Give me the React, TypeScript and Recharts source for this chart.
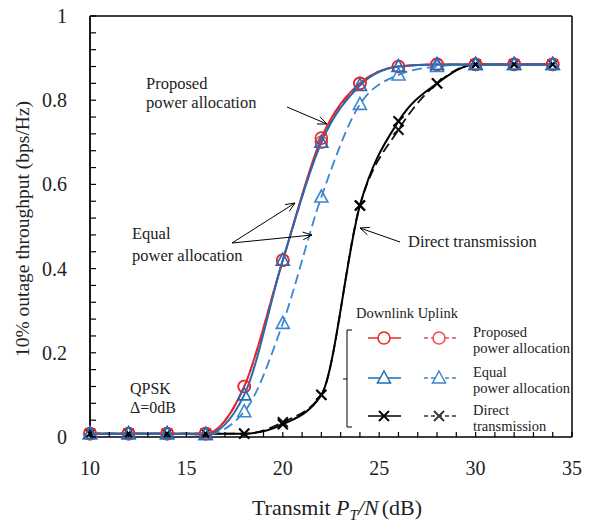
import { LineChart, Line, XAxis, YAxis, ReferenceLine } from 'recharts'

// transmit PT/N (dB) where the markers sit
const snr = [10, 12, 14, 16, 18, 20, 22, 24, 26, 28, 30, 32, 34]

// 10% outage throughput (bps/Hz)
const proposedDown = [0.008, 0.008, 0.008, 0.008, 0.12, 0.42, 0.71, 0.84, 0.88, 0.885, 0.885, 0.885, 0.885]
const proposedUp = [0.008, 0.008, 0.008, 0.008, 0.12, 0.42, 0.70, 0.84, 0.88, 0.885, 0.885, 0.885, 0.885]
const equalDown = [0.008, 0.008, 0.008, 0.006, 0.1, 0.42, 0.70, 0.835, 0.88, 0.885, 0.885, 0.885, 0.885]
const equalUp = [0.008, 0.008, 0.008, 0.006, 0.06, 0.27, 0.57, 0.79, 0.86, 0.88, 0.885, 0.885, 0.885]
const directDown = [0.008, 0.008, 0.008, 0.008, 0.008, 0.03, 0.1, 0.55, 0.75, 0.84, 0.885, 0.885, 0.885]
const directUp = [0.008, 0.008, 0.008, 0.008, 0.008, 0.035, 0.1, 0.55, 0.73, 0.84, 0.885, 0.885, 0.885]

const xLabels = [10, 15, 20, 25, 30, 35]
const yLabels = [0, 0.2, 0.4, 0.6, 0.8, 1]

const xTicks = Array.from({ length: 26 }, (_, i) => 10 + i)
const yTicks = Array.from({ length: 26 }, (_, i) => Math.round(i * 4) / 100)

const data = snr.map((x, i) => ({
  x,
  pd: proposedDown[i],
  pu: proposedUp[i],
  ed: equalDown[i],
  eu: equalUp[i],
  dd: directDown[i],
  du: directUp[i],
}))

const RED = '#e8262a'
const RED2 = '#ef4a4d'
const BLUE = '#1f6db5'
const BLUE2 = '#3a87cf'
const serif = { fontFamily: "'Liberation Serif', 'Times New Roman', Times, serif" }

function circleDot(color: string) {
  return (p: any) => (
    <circle key={'c' + p.index} cx={p.cx} cy={p.cy} r={6} fill="none" stroke={color} strokeWidth={1.6} />
  )
}

function triDot(color: string) {
  return (p: any) => (
    <path
      key={'t' + p.index}
      d={`M${p.cx},${p.cy - 7} L${p.cx + 6.5},${p.cy + 5} L${p.cx - 6.5},${p.cy + 5} Z`}
      fill="none"
      stroke={color}
      strokeWidth={1.6}
    />
  )
}

function crossDot(color: string) {
  return (p: any) => (
    <path
      key={'x' + p.index}
      d={`M${p.cx - 5},${p.cy - 5} L${p.cx + 5},${p.cy + 5} M${p.cx - 5},${p.cy + 5} L${p.cx + 5},${p.cy - 5}`}
      stroke={color}
      strokeWidth={2}
    />
  )
}

function XTick(p: any) {
  const v = p.payload.value
  const major = xLabels.includes(v)
  return (
    <g>
      <line x1={p.x} y1={p.y} x2={p.x} y2={p.y - 5} stroke="#000" strokeWidth={1.2} />
      {major && (
        <text x={p.x} y={p.y + 38} textAnchor="middle" style={serif} fontSize={20} fill="#222">
          {v}
        </text>
      )}
    </g>
  )
}

function YTick(p: any) {
  const v = p.payload.value
  const major = yLabels.some((l) => Math.abs(l - v) < 1e-6)
  return (
    <g>
      <line x1={p.x} y1={p.y} x2={p.x + 6} y2={p.y} stroke="#000" strokeWidth={1.2} />
      {major && (
        <text x={p.x - 23} y={p.y + 7} textAnchor="end" style={serif} fontSize={20} fill="#222">
          {v === 0 ? '0' : v === 1 ? '1' : v.toFixed(1)}
        </text>
      )}
    </g>
  )
}

function Arrow({ x1, y1, x2, y2 }: { x1: number; y1: number; x2: number; y2: number }) {
  const a = Math.atan2(y2 - y1, x2 - x1)
  const h = 10
  const s = 0.4
  const ax = x2 - h * Math.cos(a - s)
  const ay = y2 - h * Math.sin(a - s)
  const bx = x2 - h * Math.cos(a + s)
  const by = y2 - h * Math.sin(a + s)
  return (
    <g stroke="#000" strokeWidth={1} fill="none">
      <line x1={x1} y1={y1} x2={x2} y2={y2} />
      <path d={`M${ax},${ay} L${x2},${y2} L${bx},${by}`} />
    </g>
  )
}

function LegendRow({ y, color, color2, kind, l1, l2 }: any) {
  const mark = (cx: number, c: string) =>
    kind === 'c' ? (
      <circle cx={cx} cy={y} r={6} fill="white" stroke={c} strokeWidth={1.5} />
    ) : kind === 't' ? (
      <path d={`M${cx},${y - 7} L${cx + 6.5},${y + 5} L${cx - 6.5},${y + 5} Z`} fill="white" stroke={c} strokeWidth={1.5} />
    ) : (
      <path d={`M${cx - 5},${y - 5} L${cx + 5},${y + 5} M${cx - 5},${y + 5} L${cx + 5},${y - 5}`} stroke={c} strokeWidth={1.8} />
    )
  return (
    <g>
      <line x1={368} y1={y} x2={401} y2={y} stroke={color} strokeWidth={1.5} />
      {mark(384, color)}
      <line x1={424} y1={y} x2={456} y2={y} stroke={color2} strokeWidth={1.5} strokeDasharray="4 3" />
      {mark(439, color2)}
      <text x={473} y={y - 1} style={serif} fontSize={14.5} fill="#222">
        {l1}
      </text>
      <text x={473} y={y + 15} style={serif} fontSize={14.5} fill="#222">
        {l2}
      </text>
    </g>
  )
}

export default function App() {
  return (
    <div style={{ position: 'absolute', left: 0, top: 0, width: 594, height: 523, background: '#fff', ...serif }}>
      <LineChart width={594} height={523} data={data} margin={{ top: 16, right: 22, left: 0, bottom: 0 }}>
        <XAxis
          dataKey="x"
          type="number"
          domain={[10, 35]}
          ticks={xTicks}
          interval={0}
          height={86}
          tickSize={0}
          tickMargin={0}
          tick={XTick}
          stroke="#000"
          strokeWidth={1.5}
        />
        <YAxis
          type="number"
          domain={[0, 1]}
          ticks={yTicks}
          interval={0}
          width={90}
          tickSize={0}
          tickMargin={0}
          tick={YTick}
          stroke="#000"
          strokeWidth={1.8}
        />
        <ReferenceLine y={1} stroke="#000" strokeWidth={1.5} />
        <ReferenceLine x={35} stroke="#000" strokeWidth={1.5} />
        <Line type="monotone" dataKey="du" stroke="#111" strokeWidth={1.8} strokeDasharray="10 5" dot={crossDot('#111')} isAnimationActive={false} />
        <Line type="monotone" dataKey="dd" stroke="#000" strokeWidth={2} dot={crossDot('#000')} isAnimationActive={false} />
        <Line type="monotone" dataKey="pu" stroke={RED2} strokeWidth={1.8} strokeDasharray="10 5" dot={circleDot(RED2)} isAnimationActive={false} />
        <Line type="monotone" dataKey="pd" stroke={RED} strokeWidth={2} dot={circleDot(RED)} isAnimationActive={false} />
        <Line type="monotone" dataKey="eu" stroke={BLUE2} strokeWidth={1.8} strokeDasharray="10 5" dot={triDot(BLUE2)} isAnimationActive={false} />
        <Line type="monotone" dataKey="ed" stroke={BLUE} strokeWidth={2} dot={triDot(BLUE)} isAnimationActive={false} />
      </LineChart>
      <svg width={594} height={523} style={{ position: 'absolute', left: 0, top: 0, pointerEvents: 'none' }}>
        <text transform="translate(29,229) rotate(-90)" textAnchor="middle" style={serif} fontSize={19.5} fill="#222">
          10% outage throughput (bps/Hz)
        </text>
        <text x={337} y={515} textAnchor="middle" style={serif} fontSize={22} fill="#222">
          Transmit <tspan fontStyle="italic">P</tspan>
          <tspan fontStyle="italic" fontSize={15} dy={5}>T</tspan>
          <tspan fontStyle="italic" dy={-5}>/N</tspan>
          <tspan dx={3}>(dB)</tspan>
        </text>

        <text x={146} y={89} style={serif} fontSize={16.5} fill="#222">Proposed</text>
        <text x={146} y={108} style={serif} fontSize={16.5} fill="#222">power allocation</text>
        <Arrow x1={287} y1={107} x2={327} y2={124} />

        <text x={132} y={239} style={serif} fontSize={16.5} fill="#222">Equal</text>
        <text x={132} y={261} style={serif} fontSize={16.5} fill="#222">power allocation</text>
        <Arrow x1={232} y1={243} x2={295} y2={203} />
        <Arrow x1={232} y1={243} x2={312} y2={235} />

        <text x={408} y={247} style={serif} fontSize={16.5} fill="#222">Direct transmission</text>
        <Arrow x1={400} y1={242} x2={360} y2={228} />

        <text x={130} y={394} style={serif} fontSize={16} fill="#222">QPSK</text>
        <text x={130} y={413} style={serif} fontSize={16} fill="#222">Δ=0dB</text>

        <text x={356} y={318} style={serif} fontSize={14.5} fill="#222">Downlink Uplink</text>
        <path d="M352,330 L347,330 L347,427 L352,427 M343,379 L347,379" stroke="#000" strokeWidth={1} fill="none" />
        <LegendRow y={338} color={RED} color2={RED2} kind="c" l1="Proposed" l2="power allocation" />
        <LegendRow y={378} color={BLUE} color2={BLUE2} kind="t" l1="Equal" l2="power allocation" />
        <LegendRow y={416} color="#000" color2="#333" kind="x" l1="Direct" l2="transmission" />
      </svg>
    </div>
  )
}
